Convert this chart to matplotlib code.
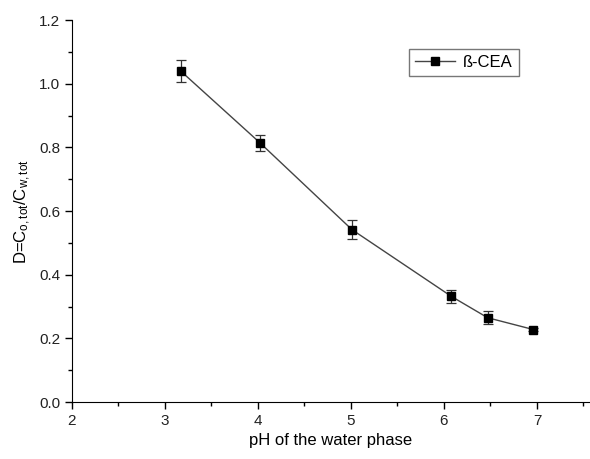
import matplotlib
matplotlib.use('Agg')
from matplotlib import pyplot as plt
from matplotlib.ticker import MultipleLocator, FormatStrFormatter

plt.rcParams['font.family'] = ['Liberation Sans', 'DejaVu Sans']
plt.rcParams['mathtext.default'] = 'regular'

# Data
ph = [3.17, 4.02, 5.01, 6.08, 6.47, 6.96]
d_ratio = [1.04, 0.815, 0.542, 0.332, 0.265, 0.228]
d_err = [0.035, 0.025, 0.03, 0.02, 0.02, 0.006]

fig = plt.figure(figsize=(5.9, 4.59), dpi=100)
ax = fig.add_axes([0.122, 0.124, 0.878, 0.832])

# error bars first, then line + markers (legend shows only the line)
ax.errorbar(ph, d_ratio, yerr=d_err, fmt='none',
            ecolor='#333333', elinewidth=0.9, capsize=3.5, capthick=0.9)
ax.plot(ph, d_ratio, color='#444444', lw=1.0,
        marker='s', ms=6, mfc='black', mec='black', label='ß-CEA')

ax.set_xlim(2, 7.57)
ax.set_ylim(0, 1.2)
ax.xaxis.set_major_locator(MultipleLocator(1))
ax.xaxis.set_minor_locator(MultipleLocator(0.5))
ax.yaxis.set_major_locator(MultipleLocator(0.2))
ax.yaxis.set_minor_locator(MultipleLocator(0.1))
ax.yaxis.set_major_formatter(FormatStrFormatter('%.1f'))

ax.spines['top'].set_visible(False)
ax.spines['right'].set_visible(False)
ax.tick_params(which='major', direction='out', length=5, width=1,
               labelsize=11, labelcolor='#222222')
ax.tick_params(which='minor', direction='out', length=3, width=1)

ax.set_xlabel('pH of the water phase', fontsize=12)
ax.set_ylabel('D=C$_{o,tot}$/C$_{w,tot}$', fontsize=12)

leg = ax.legend(loc='upper right', bbox_to_anchor=(0.862, 0.925), fontsize=12,
                fancybox=False, edgecolor='#555555', handlelength=2.4,
                borderpad=0.35, handletextpad=0.5, borderaxespad=0)
leg.get_frame().set_linewidth(1.0)

fig.savefig('out.png', dpi=100)
